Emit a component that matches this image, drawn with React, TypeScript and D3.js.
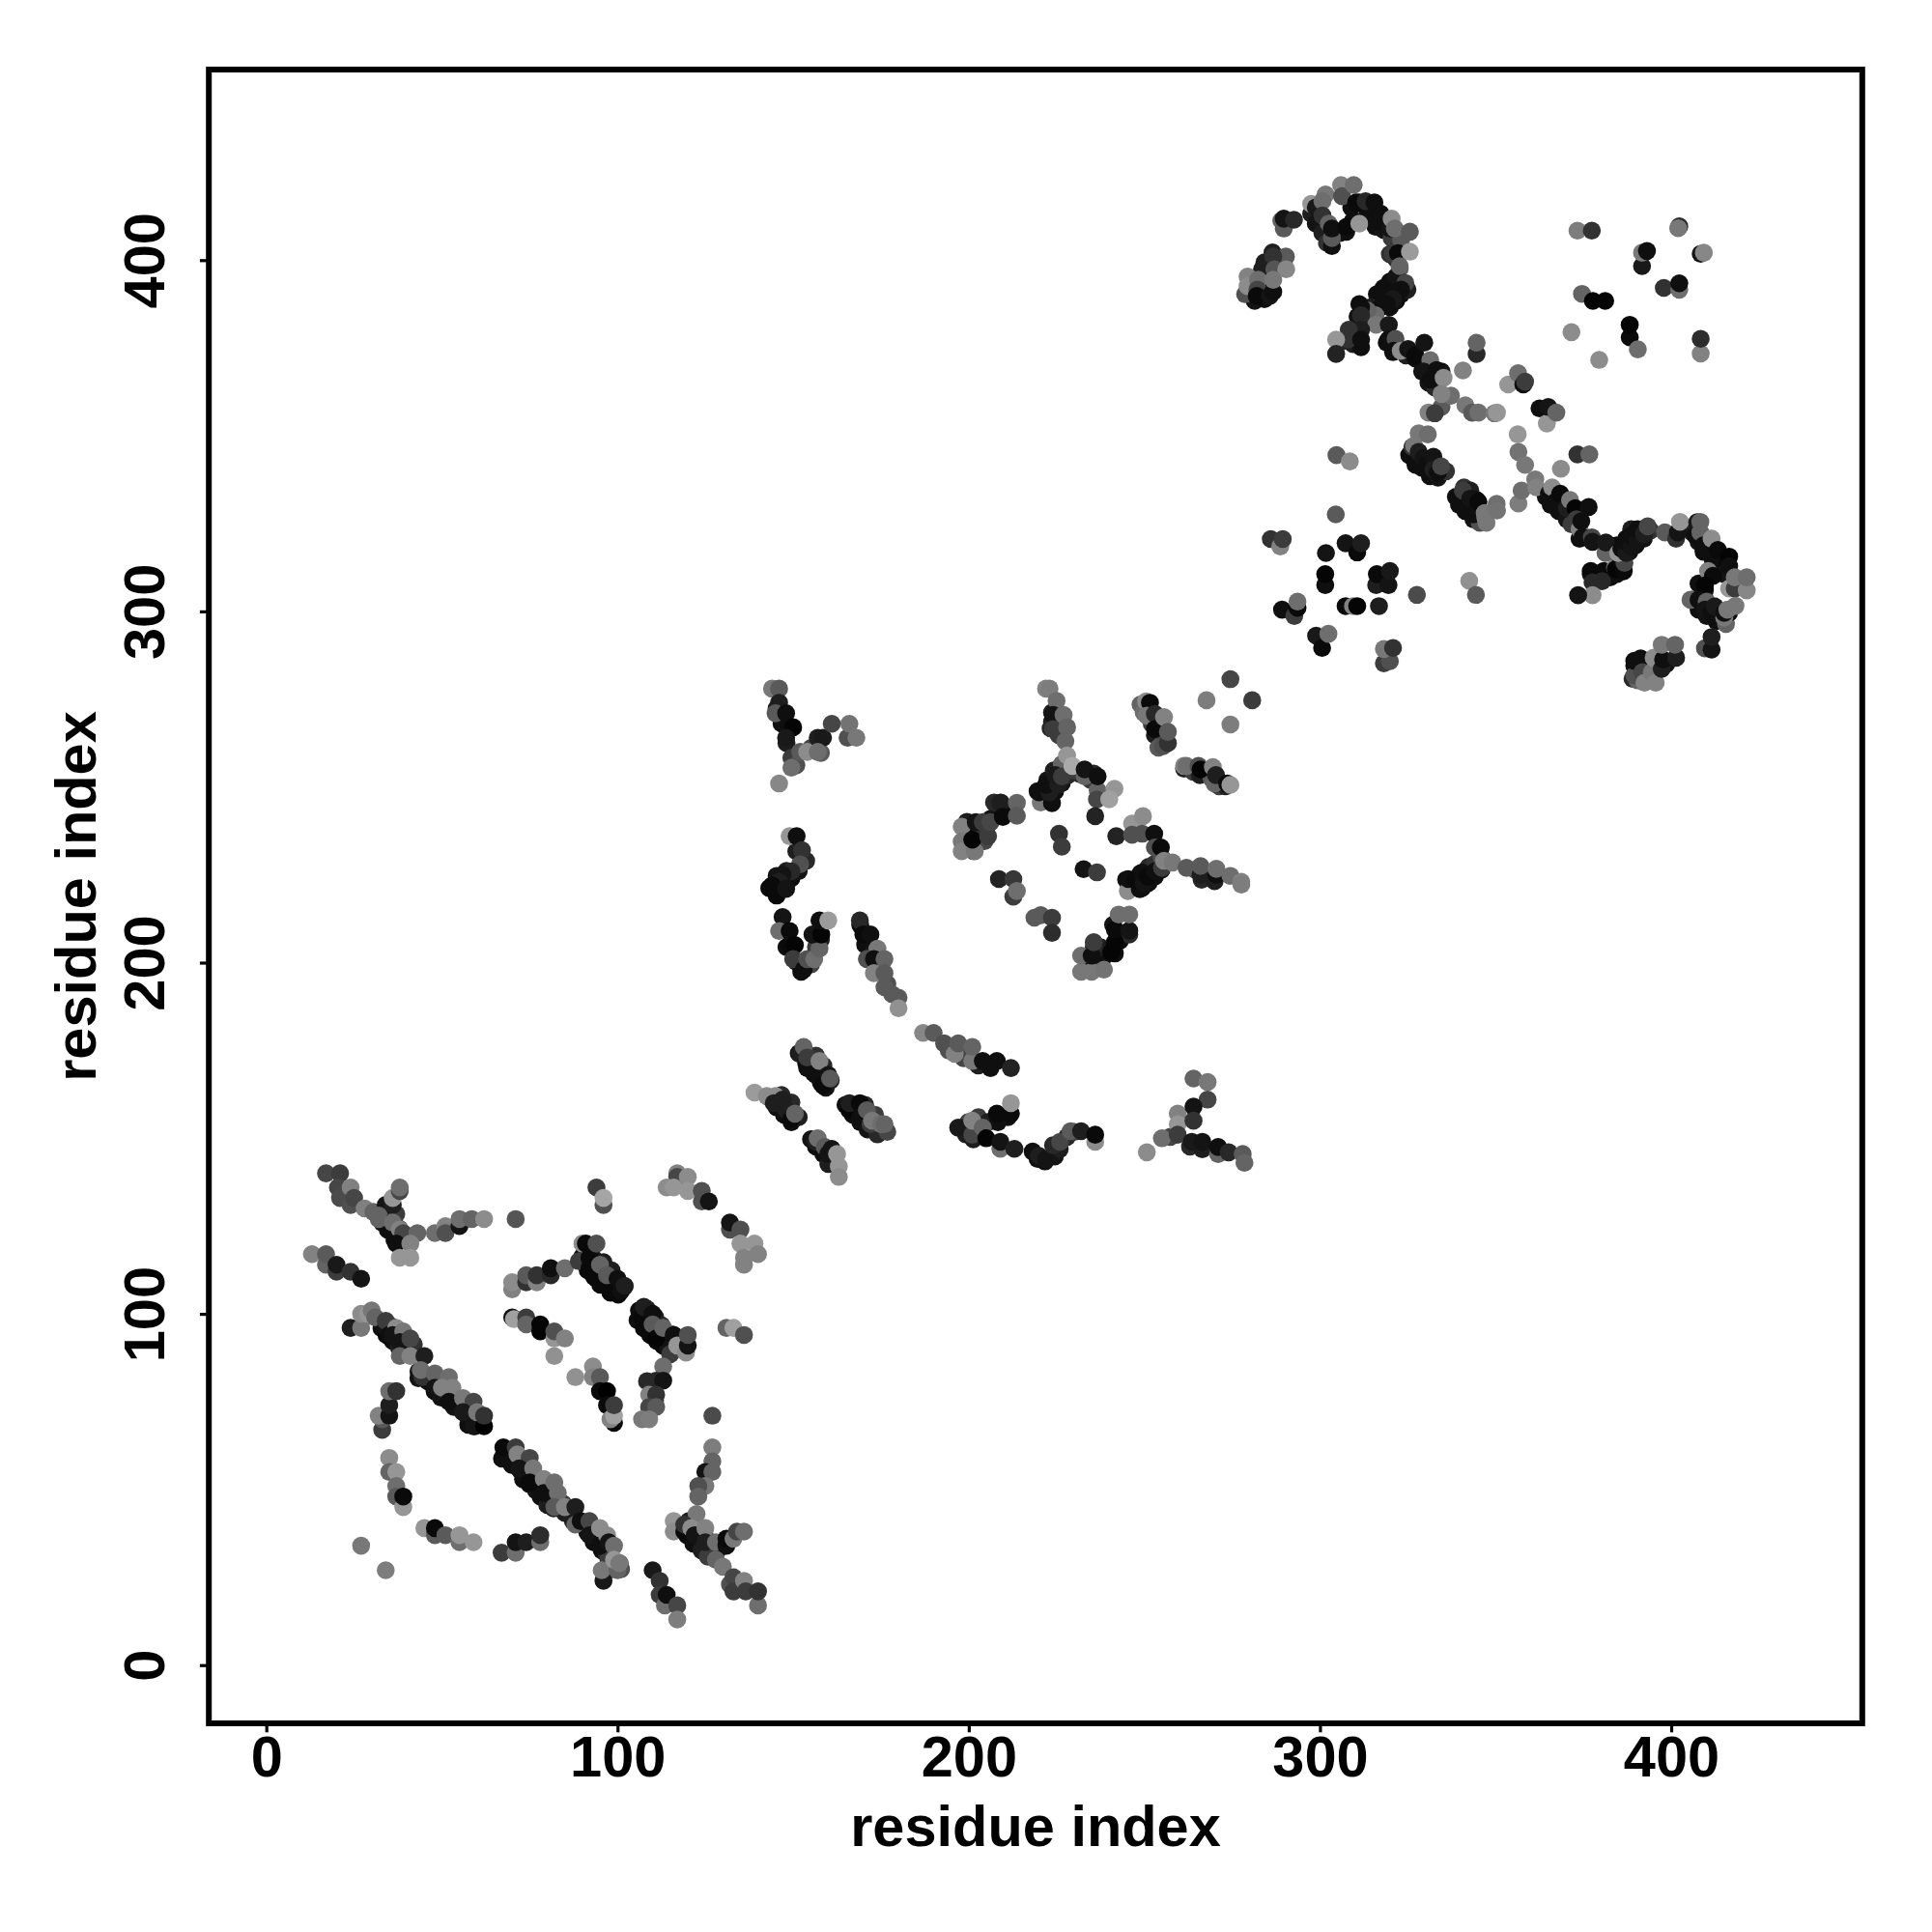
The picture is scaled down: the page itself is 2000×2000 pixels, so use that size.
import React, { useEffect, useRef } from "react";
import * as d3 from "d3";

type Contact = [number, number, number];

const axisTicks = [0, 100, 200, 300, 400];
const axisLabel = "residue index";

// [residue x, residue y, grey level]
const lowerLeftHidden: Contact[] = [
  [32.8,126.6,15],[36,126.6,30],[34.6,123.9,15],[37.8,124.3,40],[36.5,121,15],[39.2,121,40],[31.4,128.4,30],[34.6,128.9,30],[37,128.4,60],
  [32.8,95.9,15],[34.2,94,10],[36,92.3,15],[37.8,90.4,30],[35,96.8,30],[37.4,95.5,40],[39.7,92.7,50],[42,91.3,50],
  [43.3,83.6,30],[43.3,81.7,20],[46,80.8,15],[47.9,78,15],[49.7,76.2,20],[51.6,77.2,30],[53.4,73.5,20],[56.2,73,30],[58.9,70.7,40],[59.4,68,20],[57.5,68.4,15],
  [67.1,58.8,15],[69.9,57,15],[72.2,55.6,20],[73.1,52.9,15],[74.9,51.5,15],[76.8,49.7,20],[78.1,47.9,15],[80,45.6,30],[81.8,44.6,20],[84.5,46,60],[85,43.3,30],[87.3,41,30],[89.6,40.5,20],[91.4,37.8,15],[93.2,35,15],[95.5,32.7,15],[96.9,31.8,40],[97.4,30.1,60],[98.3,27.3,80],[101,27.3,80],[100.6,29,60],
  [90.1,116.5,15],[91.5,112.4,10],[93.3,110.6,10],[95.1,108.3,10],[97.9,106.5,10],[100.2,105.5,10],[102,107.8,20],[93.3,115.6,20],[96,114.7,30],[98.3,112.4,30],[99.2,109.7,20],
  [106.1,101,15],[105.7,98.2,15],[107.5,95.9,10],[109.3,94,10],[111.2,92.3,10],[113,90.9,10],[114.4,90,20],[116.6,90,40],[118.5,90,60],[108.4,101.4,30],[110.7,99.1,30],[112.5,96.8,40],[115.7,94.1,20],[117.6,91.8,20],
  [108.4,80.8,40],[109.8,78,50],[110.7,75.3,60],[109.3,72.6,70],
  [118,38.7,15],[119.8,36.9,15],[121.6,34.6,15],[123.9,32.7,30],[125.7,30.9,60],[120.3,41,30],[123,38.2,40],[125.7,35.5,50],[128.5,32.7,60],[130.3,34,20],
];
const middleHidden: Contact[] = [
  [151.6,174.2,20],[153.7,171.4,15],[155.8,168.6,15],[157.9,165.8,15],[159.3,164.4,20],[160.7,166.5,30],[158.6,170.7,40],[156.5,173.5,50],
  [143.2,161.6,20],[145.3,158.8,15],[147.4,156.7,15],[149.5,154.6,15],[151.6,156,30],[149.5,160.2,40],[146.7,162.3,40],
  [164.9,159.5,15],[167,156.7,15],[169.1,154.6,15],[171.2,152.5,20],[174,151.1,40],[176.8,151.8,70],[173.3,156.7,60],[170.5,159.5,40],
  [155.1,149.7,20],[156.5,147.6,15],[158.6,145.5,15],[160,142.7,30],[162.1,144.8,60],
  [199.2,151.1,30],[201.3,149.7,30],[199.9,154.6,60],[202.7,156,60],[205.5,154.6,30],[208.3,154.6,15],[211.2,156,15],
  [219.6,144.1,15],[221.7,143.4,15],[224.5,144.8,20],[225.9,146.9,30],[228,150.4,40],[230.1,151.8,60],[218.2,146.2,15],
  [257.4,150.4,70],[263,147.6,40],[266.5,146.9,30],
  [169.1,210.7,15],[170.5,205.1,15],[172.6,202.3,30],[174.7,198,60],[176.8,193.9,80],[178.2,191,90],[194.3,175,80],[198.5,172.8,70],[202.7,170.7,30],[206.2,170,15],
  [145.3,272.4,30],[146.7,268.1,15],[148.1,262.5,30],[149.5,258.3,60],[150.9,256.2,80],[155.1,261.1,70],[157.9,259.7,90],
  [143.2,221.2,10],[145.3,219.1,10],[147.4,221.2,15],[149.5,224,15],[151.6,226.1,20],[153.7,229,40],[150.9,231.7,30],[148.1,226.1,30],[145.3,224.7,20],
  [148.1,204.4,15],[150.9,200.2,30],[152.3,197.4,15],[155.1,199.5,70],[156.5,204.4,60],[157.9,206.5,30],
  [219.6,248.8,15],[221.9,246.5,15],[224.6,248.8,15],[226.5,251.1,20],[228.3,253.4,40],[222.4,252,20],[224.2,254.7,30],[226.5,255.7,60],
  [223.7,271.2,30],[223.7,268.5,30],[223.3,266.7,40],[225.6,264.8,60],[226.5,268.5,60],
  [235.6,253.8,40],[234.7,252,60],[231.5,253.8,40],[230.1,254.7,60],
  [199.5,240.1,30],[200.8,238.3,15],[201.7,235.5,15],[199.9,233.7,30],[203.1,236.4,50],[205.4,239.2,30],[207.7,241.9,30],[209.1,245.6,30],[210.9,243.8,15],[204.5,234.6,70],[201.3,231.8,60],[206.3,241,20],[207.2,245.6,40],
  [244.8,223.6,15],[247.1,222.7,15],[249.4,221.3,15],[251.2,222.7,15],[253,224.5,15],[254.9,226.4,20],[251.2,227.3,40],[253,228.2,50],[254.9,230,80],[248.9,225.4,20],
  [266.3,223.6,40],[270,223.2,30],[264.5,226.4,70],
  [238.4,201.6,15],[241.6,202.6,15],[234.3,200.7,30],[237.5,204.4,30],[235.6,204.4,40],[243,206.2,15],[245.7,208,40],[241.1,210.8,20],
  [248.9,273.5,100],[249.8,271.2,110],[252.1,268,60],[253,264.8,30],[254.9,262.1,70],[254,261.2,90],
  [261.3,255.2,30],[264,254.3,60],[265.8,253.4,30],[269.1,252.5,90],[271.3,250.2,60],[273.2,250.2,30],
];
const upperHidden: Contact[] = [
  [297.5,413.2,30],[298.8,410.4,20],[300.7,407.7,30],[302,404.9,50],[303.4,404,15],[305.7,407.7,20],[307.5,408.1,15],[309.4,411.3,15],[308.9,415,15],[311.2,416.4,15],[313.5,413.2,15],[315.8,409.5,15],[318.1,408.6,20],[320.4,406.3,60],[323.1,405.8,90],
  [319.9,401.7,50],[321.7,400.3,40],[322.7,397.6,90],
  [281.4,388.4,20],[284.2,388.9,15],[278.7,390.3,80],[281.4,394.9,60],[284.2,399.4,30],[286.5,402.2,30],[285.1,392.1,30],
  [316.2,390.3,15],[318.1,392.1,15],[319.9,393.9,15],[321.7,395.3,20],[317.6,387.5,15],[319.9,386.6,15],[321.7,388.4,15],[323.1,390.3,15],[324.9,391.6,30],[314.4,386.6,30],[311.2,387.5,15],[310.7,383.9,20],[312.6,383,30],
  [306.6,377,40],[309.4,376.1,30],[311.7,375.2,15],
  [319,376.5,15],[320.8,373.8,15],[324.5,372.9,30],[327.2,372,15],[329.1,368.3,15],[330.9,365.1,20],[332.7,363.7,40],[334.6,368.3,20],[331.8,368.3,15],[330.4,371,15],
  [325.4,344.5,15],[327.2,341.7,15],[329.1,340.8,15],[331.3,338.5,15],[333.6,338.1,20],[335.9,339.9,50],[326.3,346.8,50],
  [338.7,332.6,15],[339.6,330.3,15],[341.4,328.5,15],[343.7,326.2,20],[345.5,325.2,80],[341,335.3,50],[342.8,334.4,30],[344.6,331.7,15],[347.4,325.2,120],
  [364.3,332.6,15],[365.7,330.3,15],[368,328.5,15],[370.3,326.2,20],[371.6,324.8,60],[373.9,320.7,15],[369.3,331.2,30],
  [384.5,318.8,15],[384.9,316.1,15],[385.8,313.3,15],[388.1,317,15],[389.9,318.8,15],[392.2,320.7,20],[394.1,323,50],[388.6,323.4,30],[387.2,320.7,15],[386.3,311.5,15],
  [406,322.5,30],[407.8,319.8,20],[409.2,317,15],[411.9,314.3,15],[413.8,313.4,15],[416,313.4,10],[415.1,310.6,20],[407.8,307.9,15],[409.6,306,15],[406,303.3,40],[407.8,300.5,15],[410.1,298.7,20],[412.8,297.3,15],[415.6,296.4,100],[416.5,299.6,15],
  [390.4,284.5,15],[389,280.8,40],[390.4,280.4,100],[393.2,283.6,60],[398.6,285,20],[389.5,284.5,15],
  [377.1,310.6,30],[379.9,308.8,15],[382.6,309.7,15],[384.5,310.6,15],
];
const upperLeftArm: Contact[] = [
  [17,140,70],[21,140,60],[20.4,136,70],[21,133,75],[24,131,80],[24,136,128],[25,133,70],[28,130,128],[30.5,129,100],[34,131,20],[36,131,30],[36,133,150],[38,135,70],[38,136,110],[32,128,100],[33,126,20],[35,124,15],[32,127,100],[36,126,110],[38,124,130],[39,123,70],[37,120,15],[43,123,100],[41,120,130],[38,116,150],[41,116,150],[48,123,110],[51,125,130],[51,123,80],[55,125,20],[55,127,110],[58.5,127,100],[62,127,140],[71,127,85],
  [13,117,130],[17,114,100],[17,117,90],[20,112,60],[20,114,25],[24,112,50],[27,110,20],
];
const mainDiagonalOne: Contact[] = [
  [24,96,30],[27,96,120],[27,100,140],[29,100,150],[30,101,120],[31,99,100],[34,96,20],[34,98,60],[35,94,15],[37,96,140],[36,94,20],[39,95,120],[38,92,20],[41,93,70],[38,88,100],[41,88,130],[45,88,30],[44.5,82,50],[44,84,110],[48,83,100],[52,82,110],[48,79,20],[50,79,130],[53,79,130],[52,75,15],[56,76,120],[59,75,70],[56,72,25],[59,68,20],[60,72,120],[62,68,0],[62,71,50],
];
const lowerLeftCurve: Contact[] = [
  [33,67,60],[33,70,90],[32,71,130],[35,71,20],[35,74,30],[35,78,110],[37,78,50],
  [35,59,140],[35,55,100],[37,55,150],[37,51,110],[37,48,90],[39,45,150],[39,48,10],
  [45,39,150],[48,37,90],[48,39,10],[51,37,90],[55,35,110],[55,37,150],[59,35,150],[27,34,120],[34,27,125],
  [67,32,60],[71,32,110],[71,35,20],[74,35,30],[78,35,110],[78,37,45],
];
const mainDiagonalTwo: Contact[] = [
  [67.5,59,15],[67.5,62,10],[71,62,60],[71.5,60,130],[75,59,70],[72,56,20],[76,56,120],[75,52,10],[79,53,130],[79,49,15],[82,52,110],[83,49,110],[82,45,90],[85,45,130],[88,40,100],[88,45,30],[89.5,41,15],[92,41,70],[92,37,20],[95,39,140],[95,34,15],[97,37,140],[97.5,35,20],[99,34,110],[96,24,25],[95.5,27,120],[100,27,100],[99,30,150],[100.5,29,120],
];
const lowerFork: Contact[] = [
  [110,27,25],[112,24,50],[112,20,60],[113.5,17,110],[114,20,15],[117,17,70],[117,13,125],
  [127,62,125],[127,58,100],[125,55,20],[127,55,100],[125,51,120],[123,51,80],[123,48,100],[122.5,43,120],[116,41,150],[116,38,140],[119,38,10],[119,40,50],[121,39,140],[122,37,20],[125,39,130],[125,35,30],[128,35,110],[131,34,15],[131,36,10],[133,36,120],[134,38,70],[136,38,110],[128,30,100],[130,28,120],[132,23,80],[133,25,70],[133,21,60],[136,24,130],[136.5,21,60],[140,17,110],[140,21,50],
];
const centreLeftLoop: Contact[] = [
  [94,136,60],[96,131,80],[96,133,165],
  [70,107,130],[70,109,140],[74,109,50],[74,111,90],[77,109,130],[77,111,50],[81,111,40],[81,113,15],[85,113,110],
  [89,115,60],[90,120,140],[91,120,10],[92,113,10],[92,116,10],[94,110,10],[94,120,80],[95,114,100],[97,111,90],[98,106,10],[100,110,15],[101,106.5,15],[102,108,30],
  [70,99,20],[70.5,98.5,160],[74,99,60],[74,97,100],[78,97,5],[78,95,5],[82,93,150],[82,95,80],[85,93,130],[82,88,145],
  [88,82,145],[93,85,140],[93,82,130],[95,82,90],[95,78,10],[97,78,0],[97,74,10],[99,69,10],[98,70,130],[99,71,160],[99,74,60],
];
const centreRightLoop: Contact[] = [
  [107,99,10],[107.5,102,30],[110,100,15],[110,97,90],[111,93,5],[113,96,100],[116,94,15],[115,88.5,60],[117,91,150],[119.5,89,140],[120,91,20],[120,94,80],
  [113,85,110],[111,81,40],[113,81,20],[109,77,130],[111,77,50],[109,73.5,70],[111,73.5,90],[107,70,120],[109,70,125],
  [131,96,100],[133,96,160],[136,94,80],[127,71,75],
  [117,140,130],[117,139,70],[114,136,140],[116,136,150],[120,139,140],[120,135,150],[124,135,80],[124,132,80],[126,132,20],
  [132,124,80],[132,126,20],[135,124,80],[135,120,150],[136,116,130],[136,114,130],[139,120,150],[140,117,130],
];
const upperVCluster: Contact[] = [
  [144,278,120],[146,278,90],[146,274,30],[145,271,90],[148,271,15],[150,267,5],[148,264,25],[149.5,255.5,110],[152,260,90],[154,260,140],[157,264,30],[158.5,264,25],[157,260,110],[161,268,70],[165.5,264,80],[166,268,115],[168,264,120],[146,251,135],
  [149,236,150],[151,236,15],[152.5,232,50],[152,228,80],[149.5,226,40],[147,225,20],[146,223,30],[144,222,10],[145,220,10],[148,221,20],
  [147,213,20],[146,209,110],[149,209,10],[149,205,10],[150.5,205,5],[150,201,60],[153,198,15],[154,201,80],[156,201,110],[157.5,204,100],[155.5,208,20],[158,208,5],[157.5,212,15],[160,212,155],
];
const longCurve: Contact[] = [
  [169,212,40],[170,208,10],[172,208,15],[174,204,120],[171,201,80],[173,201,15],[176,201,100],[173,197,130],[176,197,90],[176,193,90],[180,190,90],[180,187,145],
  [187,180,135],[190,180,90],[193,177,80],[196,174,130],[197,177,90],[201,172,120],[201,176,100],[204,172,15],[208,172,15],[212,170,35],
];
const parallelStrands: Contact[] = [
  [152,174,30],[153,176,100],[154,170,15],[154,173,60],[156.5,168,15],[157.5,172,130],[158.5,165,10],[160,168,20],[160.5,167,90],
  [139,163,155],[142.5,162,140],[145,162,140],[144.5,160,30],[147,161,30],[148,158,30],[149.5,155.5,10],[150.5,157,100],
  [166,158,5],[166,160,30],[169,160,10],[169,156,15],[171,158,90],[172,154,60],[172.5,155,120],[175,154,110],[176,154,100],
  [156.5,149,30],[157,150,110],[159,147.5,90],[160,145.5,20],[161,147,20],[162.5,145.5,150],[163,142,150],[163,139,140],
];
const lowerMiddleArcs: Contact[] = [
  [197,153,25],[201,151,70],[201,155,130],[204,153,100],[205,150,5],[208,157,10],[212,157,10],[212,160,150],[209,147,110],[209,149,20],[213,147,30],
  [220,145,30],[222,144,20],[224,148,40],[226,149,70],[229,152,90],[232,152,30],[236,149,140],[236,151,10],
  [264,167,100],[268,166,120],[268,161,70],[259.5,157,130],[264,159,20],[259.5,154,150],[264,155,50],[255,150,110],[259.5,151,60],[250.7,146,140],[263.5,149,25],[266.5,149,20],[271,145.5,100],[271,147.5,15],[274,146,40],[278,145.5,90],[278.5,143,100],
];
const upperMiddleStar: Contact[] = [
  [222,278,130],[223,278,125],[225,274.5,110],[224,270.5,20],[224,266.5,60],[227,270.5,110],[228,267,100],[227.5,263,100],[226.5,256.5,100],[228,259,150],
  [220.5,245.6,120],[223.7,245.4,15],[220,248.5,15],[223,248.5,30],[222,250.6,15],[225.5,250.6,30],[224.6,253.4,25],[226.5,253,60],[229.5,256,170],
  [233,253,100],[233,255,20],[236.7,249,100],[236.5,246.5,70],[236.7,253,15],[241.5,249.5,150],[240,246.5,160],[236,241.7,35],
  [225.7,236.7,50],[226.5,233,60],[242,236,35],[246.5,239.6,150],[249.6,241.7,140],[246.5,236.4,80],[249.4,236.7,80],[252.8,236.7,15],[253,232.8,80],[254.7,232.8,10],
  [245.3,220.4,140],[245.4,223.8,15],[248.7,220.9,15],[247.5,223.6,10],[249.8,222.7,20],[249.4,225.6,15],[251,224.5,10],[253,226,15],[255,227,60],[255.6,229,130],[258,228.5,120],
  [262,227,90],[266,225,30],[266,227.5,90],[270.5,225,15],[270.5,226.7,110],[274.5,224.7,110],[277.6,223,130],[277.6,222.2,125],
  [232.7,226.6,20],[236.5,225.7,60],[208.6,223.8,35],[212.7,223.8,55],[212.7,218.8,60],[213.7,220.4,110],
  [218.7,212.8,90],[220.5,213.5,90],[223.7,212.8,60],[223.7,208.5,45],
  [232,197.4,120],[235,197.4,120],[238.5,198,115],[232,202,110],[235,202,15],[235.6,205.8,60],[240.6,203,5],[241.6,205.8,5],[241.6,209.4,10],[245.7,209.1,20],[242.7,213.7,110],[245.7,213.7,110],
  [198,238.7,130],[198,234.5,120],[198,231.7,130],[201.7,231.7,120],[201,235,5],[202,240,20],[204,240,60],[205.5,236,60],[206.2,240,70],[209,245.5,30],[209.7,241.5,10],[213.7,245.5,100],[213.7,241.8,90],
  [250.5,274.4,140],[251.6,274,10],[250.7,270.3,120],[253,270.8,40],[253,266.5,10],[255.6,269.9,130],[255.3,261.6,80],[256.7,262.5,50],[256.7,265.7,90],
  [274.5,280.7,70],[267.7,274.7,125],[280.7,274.7,60],[274.5,267.8,125],
  [261.3,256,130],[262,256,110],[265.4,256,80],[266,255,5],[269.5,255.7,130],[270,251,100],[270.4,253.4,30],[273.6,251,10],[274.5,250.6,150],
];
const topHook: Contact[] = [
  [289,411.3,100],[289.7,409,90],[289.7,411.8,20],[292.6,411.5,40],
  [290.3,401,90],[286.7,401,50],[283.5,397.4,30],[287,397.4,85],[290.4,397.4,135],[279.4,395.3,130],[279.4,392.6,140],[282.4,394.4,110],[282.2,391.6,70],[282,389.8,10],[285.7,389.8,20],[286.7,391,15],[286.7,394.4,120],
  [297.5,416,150],[298.8,415,25],[301.6,418.7,120],[300.7,416.8,110],[306,421.4,130],[306.3,418.2,80],[309.6,421.4,110],[300.7,412.7,50],[303.4,406.3,90],[302.5,410.4,100],[303.4,409,15],[307.5,409.5,10],[310.3,416.4,10],[311.2,410.4,150],[313,416.8,40],[315.5,416.4,15],[317.2,413.3,15],[316.2,410.9,15],[320,409,20],[320.4,411.8,140],[321.3,409,110],[325.6,408.1,90],
  [320.8,401.7,60],[322.2,402,10],[325.6,402.4,155],[322.7,398.3,100],
  [324.3,393.5,70],[323.1,391.6,15],[320.8,390.7,15],[319,389.4,15],[320.8,388.9,25],[319,387.5,15],[316.7,386.2,15],[315.8,384.3,110],[313.5,385.7,100],[311.7,386.6,15],[311.7,384.3,40],[316,381.6,120],[319.6,381.6,25],
  [311.7,380.2,30],[308.2,380.2,50],[308,377.4,50],[311.7,377.4,15],[304.6,377.4,150],[304.6,373.3,35],
];
const upperDiagonal: Contact[] = [
  [319.5,377.4,15],[321.5,377.6,80],[321,374.2,15],[323,374.2,140],[325.1,374.7,20],[327.2,372.9,10],[329.7,376.5,20],[331.4,371.5,110],[329.5,368.3,20],[331.4,366,15],[333.2,368.7,15],[335.2,366.5,140],
  [344.6,373.3,40],[344.6,376.5,100],[340.7,368.6,130],
  [334.6,358.2,90],[337.3,361.4,110],[334.6,361.9,130],[330.9,356.6,130],[332.7,356.4,60],[341.4,358.7,120],[343.3,356.6,90],[345.1,356.6,110],[349.7,356.4,120],[350.4,356.6,150],
  [353.6,364.6,150],[356.4,367.8,110],[357.9,364.6,15],[358.4,365.4,60],
  [362.5,357.8,15],[364.6,353.5,150],[365,358.2,20],[367.3,356.6,100],
  [356.3,350.4,150],[356.5,345.4,115],[358.4,341.7,120],[361.3,337.6,120],[368.6,340.6,140],[373.3,344.7,50],[376.7,344.7,100],
  [326.8,347.2,120],[328.1,350.7,120],[330.7,350.4,110],[328.1,345.4,30],[329.5,343.6,20],[330.4,341.7,15],[332.3,344,20],[332.3,340.4,30],[333.6,339.5,15],[334.5,341.3,70],
  [339.6,331.7,15],[340.7,334.4,60],[341.9,328.9,15],[342.8,332.1,20],[343.7,327.6,15],[345.1,331.2,10],[346.9,328,120],[347.1,326.6,120],[350.3,330.6,110],[350.4,328.7,115],
  [356.5,330.7,125],[357.4,334.4,110],[361.6,335.3,130],[365.2,333.5,15],[366.1,335.3,140],[367,331.2,15],[368.4,333.5,10],[370.3,329.4,30],[371.2,331.7,120],[372.7,329.4,5],[376.5,329.7,15],[373,326.2,60],[373.9,323.4,130],[374.4,325.7,15],[374.8,321.1,15],[377.4,321.1,70],[377.6,319.8,20],[381.3,316.6,100],[381.4,319.6,25],
];
const rightHook: Contact[] = [
  [377.1,311.5,10],[380.8,311.5,10],[380.3,308.6,40],[377.6,308.3,40],[377.6,304.6,140],[373.5,304.6,20],
  [384,312.4,120],[384.2,312,5],[385.8,314.3,10],[386.5,311.5,10],[386.7,313.8,70],[384.9,316.6,150],[385.8,317.9,15],[387.2,316.6,25],[387.2,319.8,15],[388.6,318.4,20],[388.6,321.6,15],[390.4,320.2,20],[390.4,323.4,15],[392.2,322,30],[393.3,324.2,70],
  [398.2,322.5,90],[401.4,320.7,50],[401.9,322.5,20],[402.5,325.5,150],[406.9,321.6,15],[407.4,325.4,25],[408.3,322.5,100],[408.3,325.5,100],[409.2,318.8,15],[411.5,320.7,140],[413.3,317.5,10],[416.5,315.6,5],[416.5,312.9,15],
  [410.5,311.5,130],[411.9,310.1,10],[409.6,307.4,5],[416.5,306.5,150],[418.1,306.5,60],[421.5,306,135],[418.1,309.7,120],[421.5,309.7,110],
  [405.5,303.3,100],[407.8,303.3,15],[410.1,302.8,100],[409.6,300.5,20],[411.5,299.6,15],[412.4,301.4,25],[415.1,298.2,120],[415.1,299.6,15],[416,300.5,120],[418.3,301.6,120],
  [409.6,289.5,80],[411.5,289.1,20],[411.5,292.7,30],
  [389.5,281.8,80],[389.5,285.9,15],[391.3,286.6,15],[391.8,282.7,70],[392.4,279.7,130],[394.5,282.7,120],[395,286.8,140],[395.6,279.7,130],[397.3,283.6,30],[397.7,286.3,15],[397.3,290.5,120],[401.4,286.8,30],[401.1,290.5,100],
];
const centreStar: Contact[] = [
  [304.5,327.6,90],[286,320.6,50],[288.7,318.5,130],[289.4,320.6,60],
  [307.3,319.4,20],[310.6,316.8,10],[311.7,319.4,30],[301.7,316.6,20],[301.5,307.5,15],[301.5,310.6,5],[316,307.5,30],[316.2,310.6,10],[319.5,307.5,20],[319.9,311.5,25],[327.6,304.7,75],
  [307.3,301.5,10],[309.4,301.5,130],[310.6,301.5,5],[316.8,301.5,30],
  [289.2,300.5,15],[292.7,298.7,60],[293.6,301,10],[293.6,302.8,110],
  [298.9,293.1,25],[300.6,289.6,10],[302.4,293.6,110],
  [318.2,285.2,60],[319.9,285.8,80],[318.2,289.3,120],[320.8,289.6,50],
  [342.5,308.7,145],[344.4,304.7,90],[304.7,344.5,90],[308.5,342.7,140],
];
const topRightSparse: Contact[] = [
  [373.3,408.4,125],[377.4,408.4,50],[402.3,409.6,40],[402,409.1,120],[408.4,401.8,20],[409.3,402.1,135],[391.7,398.3,25],[391.7,402.1,120],[393.1,402.6,15],
  [397.9,392.1,50],[402.3,391.6,110],[402.3,393.4,15],[374.6,390.4,100],[377.7,388.4,5],[381.2,388.4,5],[388.2,378,10],[388.2,381.6,5],[390.5,374.6,110],[371.6,379.5,140],[379.5,371.6,140],[408.4,373.4,130],[408.4,377.6,45],
];

const contactGroups = [
  lowerLeftHidden, middleHidden, upperHidden,
  upperLeftArm, mainDiagonalOne, lowerLeftCurve, mainDiagonalTwo, lowerFork, centreLeftLoop, centreRightLoop,
  upperVCluster, longCurve, parallelStrands, lowerMiddleArcs, upperMiddleStar, topHook, upperDiagonal, rightHook, centreStar, topRightSparse,
];

const FONT = "'Liberation Sans', Arial, sans-serif";
const FONT_SIZE = 59.5;

export default function App() {
  const ref = useRef<SVGSVGElement | null>(null);

  useEffect(() => {
    const svg = d3.select(ref.current);
    svg.selectAll("*").remove();

    const left = 216.2, right = 1927.8, top = 72, bottom = 1784;
    const x = d3.scaleLinear().domain([-16.36, 454.4]).range([left, right]);
    const y = d3.scaleLinear().domain([-16.58, 454.26]).range([bottom, top]);
    const grey = (g: number) => d3.rgb(g, g, g).formatHex();

    svg.append("rect").attr("width", 2000).attr("height", 2000).attr("fill", "#fff");

    svg.append("g")
      .selectAll("circle")
      .data(contactGroups.flat())
      .join("circle")
      .attr("cx", (d) => x(d[0]))
      .attr("cy", (d) => y(d[1]))
      .attr("r", 9.3)
      .attr("fill", (d) => grey(d[2]));

    const xAxis = d3.axisBottom(x).tickValues(axisTicks).tickSize(9.3);
    const yAxis = d3.axisLeft(y).tickValues(axisTicks).tickSize(9.3);

    const gx = svg.append("g").attr("transform", `translate(0,${bottom})`).call(xAxis);
    const gy = svg.append("g").attr("transform", `translate(${left},0)`).call(yAxis);
    [gx, gy].forEach((g) => {
      g.select(".domain").remove();
      g.selectAll("line").attr("stroke", "#000").attr("stroke-width", 3.2);
      g.selectAll("text")
        .attr("fill", "#000")
        .attr("font-family", FONT)
        .attr("font-weight", "bold")
        .attr("font-size", FONT_SIZE);
    });
    gx.selectAll("text").attr("dy", null).attr("y", 55);
    gy.selectAll("text")
      .attr("x", null).attr("dy", null)
      .attr("text-anchor", "middle")
      .attr("transform", "translate(-46.5,0) rotate(-90)");

    svg.append("rect")
      .attr("x", left).attr("y", top)
      .attr("width", right - left).attr("height", bottom - top)
      .attr("fill", "none").attr("stroke", "#000").attr("stroke-width", 6);

    svg.append("text")
      .attr("x", (left + right) / 2).attr("y", 1911)
      .attr("text-anchor", "middle")
      .attr("font-family", FONT).attr("font-weight", "bold").attr("font-size", FONT_SIZE)
      .text(axisLabel);
    svg.append("text")
      .attr("transform", `translate(99,${(top + bottom) / 2}) rotate(-90)`)
      .attr("text-anchor", "middle")
      .attr("font-family", FONT).attr("font-weight", "bold").attr("font-size", FONT_SIZE)
      .text(axisLabel);
  }, []);

  return (
    <svg
      ref={ref}
      width={2000}
      height={2000}
      style={{ position: "absolute", left: 0, top: 0, display: "block" }}
    />
  );
}
